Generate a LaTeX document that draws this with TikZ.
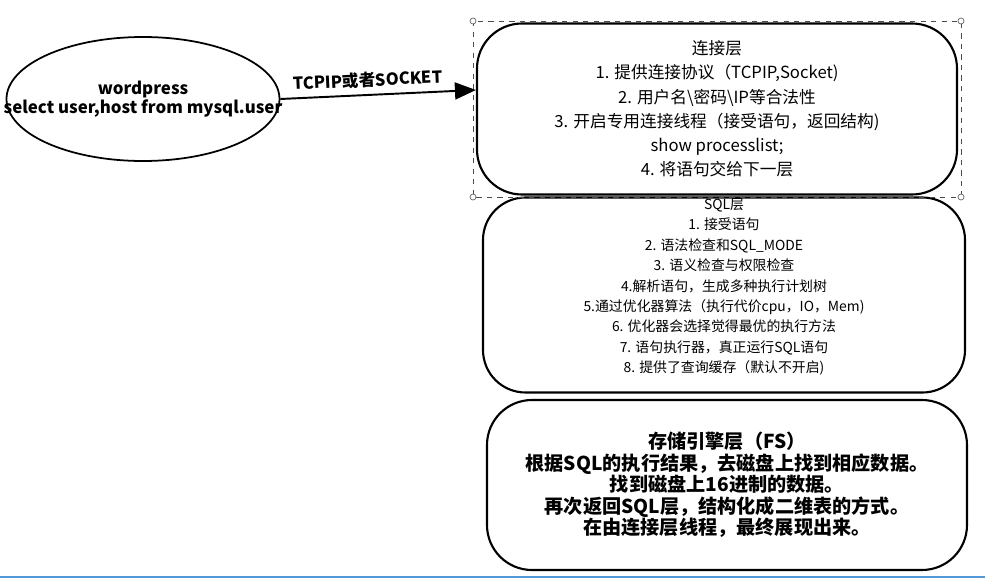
\documentclass[tikz,border=0pt]{standalone}
\usepackage{fontspec}
\setmainfont{Noto Sans CJK SC}
\usetikzlibrary{shapes.geometric,arrows.meta}

\begin{document}
\begin{tikzpicture}[
  x=0.2mm, y=-0.2mm,
  client/.style={draw, ellipse, line width=1pt, inner xsep=-9mm, inner ysep=0pt, minimum width=54.6mm, minimum height=24.8mm, align=center, font=\bfseries\fontsize{9.6}{11}\selectfont},
  layer/.style={draw, line width=1.2pt, rounded corners=9mm, align=center},
  selframe/.style={draw=black!70, dashed, line width=0.5pt},
  handle/.style={draw=black!60, fill=white, line width=0.4pt}
]
\useasboundingbox (0,0) rectangle (985,578);

% client
\node[client] (wp) at (143,99) {wordpress\\select user,host from mysql.user};

% layers
\node[layer, minimum width=96mm, minimum height=34.2mm, font=\fontsize{9.5}{13.8}\selectfont] (conn) at (717,109)
  {连接层\\
   1. 提供连接协议（TCPIP,Socket)\\
   2. 用户名\textbackslash 密码\textbackslash IP等合法性\\
   3. 开启专用连接线程（接受语句，返回结构)\\
   show processlist;\\
   4. 将语句交给下一层};
\node[layer, minimum width=96.4mm, minimum height=39mm, rounded corners=8.5mm] (sql) at (724,295) {};
\node[align=center, font=\fontsize{7.9}{11.6}\selectfont] (sqltxt) at (724,287)
  {SQL层\\
   1. 接受语句\\
   2. 语法检查和SQL\_MODE\\
   3. 语义检查与权限检查\\
   4.解析语句，生成多种执行计划树\\
   5.通过优化器算法（执行代价cpu，IO，Mem)\\
   6. 优化器会选择觉得最优的执行方法\\
   7. 语句执行器，真正运行SQL语句\\
   8. 提供了查询缓存（默认不开启)};
\node[layer, minimum width=96mm, minimum height=34mm, font=\bfseries\fontsize{10.9}{12.2}\selectfont] (engine) at (727,485)
  {存储引擎层（FS）\\
   根据SQL的执行结果，去磁盘上找到相应数据。\\
   找到磁盘上16进制的数据。\\
   再次返回SQL层，结构化成二维表的方式。\\
   在由连接层线程，最终展现出来。};

% selection frame round the top layer
\draw[selframe] (473,21) rectangle (961,197);
\foreach \hx/\hy in {473/21, 961/21, 473/197, 961/197}
  \draw[handle] (\hx,\hy) circle (3);

% connection
\draw[line width=1.1pt, -{Triangle[length=4.2mm, width=3.4mm]}] (wp.east) -- ([yshift=3.8mm]conn.west)
  node[pos=0.45, above, sloped, font=\bfseries\fontsize{9.4}{10}\selectfont] (proto) {TCPIP或者SOCKET};

% bottom edge
\draw[cyan!60!blue!70, line width=1pt] (0,577) -- (985,577);
\end{tikzpicture}
\end{document}
